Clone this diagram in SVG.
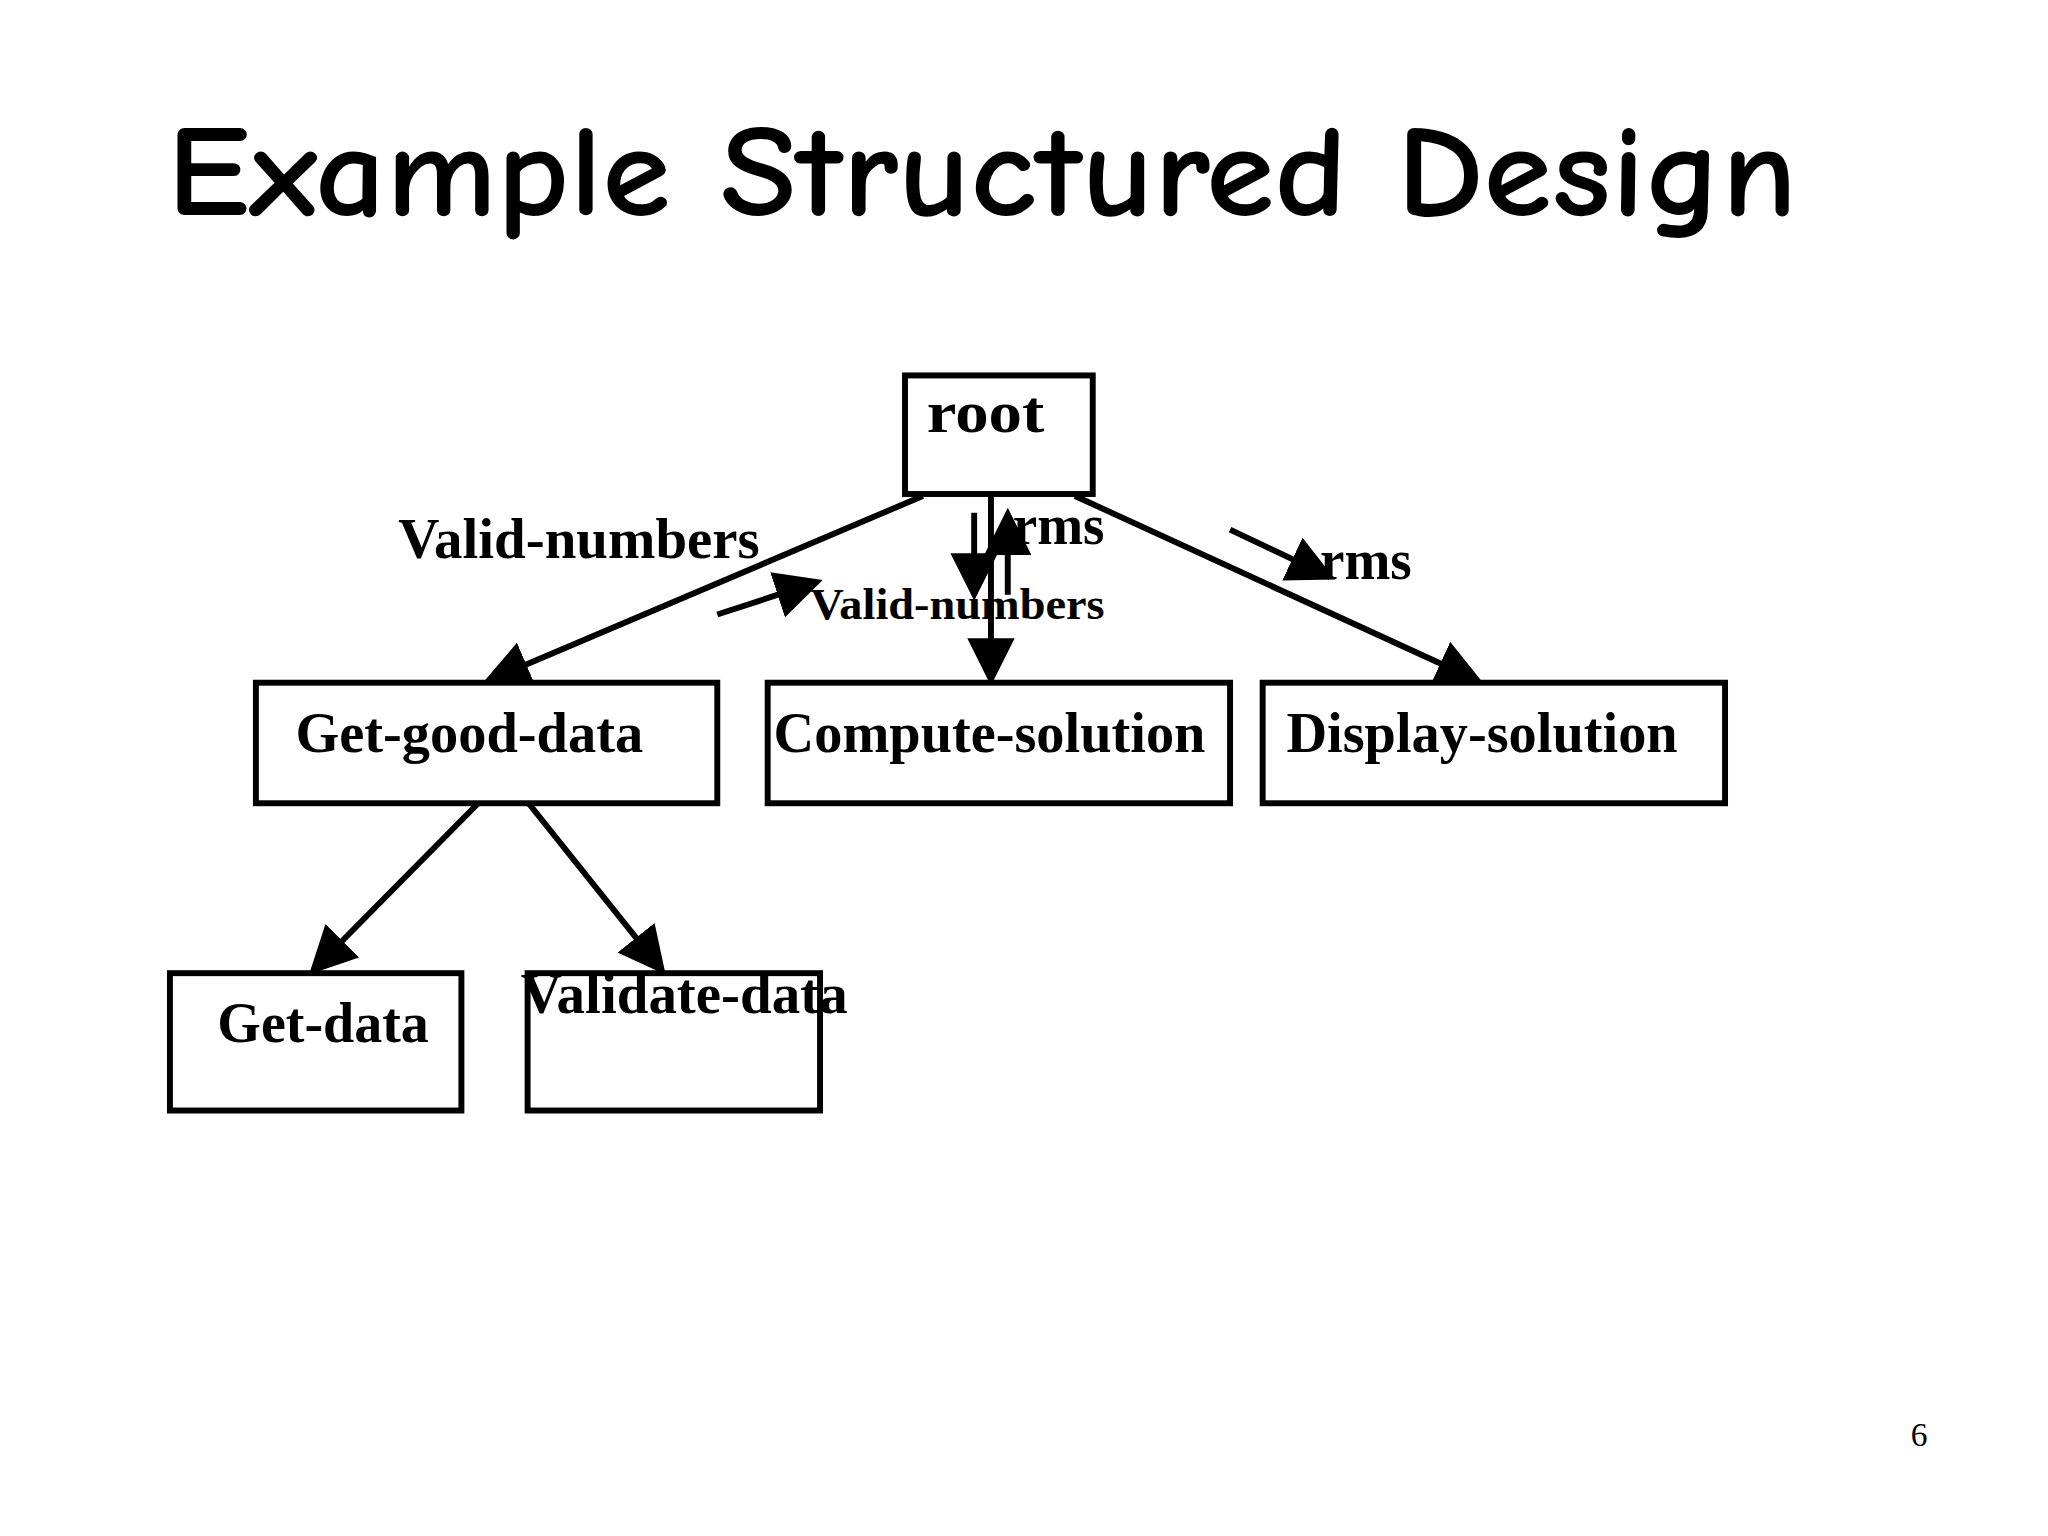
<svg xmlns="http://www.w3.org/2000/svg" width="2048" height="1536" viewBox="0 0 2048 1536">
<style>
.box{fill:#fff;stroke:#000;stroke-width:6}
.t{font-family:"Liberation Serif",serif;font-weight:bold;fill:#000}
.c{stroke:#000;stroke-width:6;fill:none;marker-end:url(#ah)}
</style>
<defs><marker id="ah" markerWidth="8" markerHeight="8" refX="7" refY="4" orient="auto" markerUnits="strokeWidth"><path d="M0,0 L8,4 L0,8 Z" fill="#000"/></marker></defs>
<rect width="2048" height="1536" fill="#fff"/>
<g transform="scale(0.988)">
<text x="169" y="218" font-family="'Comic Neue','Noto Sans',sans-serif" font-weight="bold" font-size="132" textLength="1650" lengthAdjust="spacingAndGlyphs">Example Structured Design</text>
<g id="connectors">
<line class="c" x1="934" y1="502" x2="494" y2="689"/>
<line class="c" x1="1003" y1="502" x2="1003" y2="688"/>
<line class="c" x1="1088" y1="502" x2="1496" y2="689"/>
<line class="c" x1="484" y1="813" x2="317" y2="982"/>
<line class="c" x1="535" y1="813" x2="670" y2="982"/>
<line class="c" x1="726" y1="622" x2="827" y2="589"/>
<line class="c" x1="1245" y1="536" x2="1346" y2="584"/>
<line class="c" x1="986" y1="519" x2="986" y2="602"/>
<line class="c" x1="1020" y1="602" x2="1020" y2="520"/>
</g>
<g id="root"><rect class="box" x="916" y="380" width="190" height="120"/><text class="t" x="938" y="437" font-size="60" textLength="119" lengthAdjust="spacingAndGlyphs">root</text></g>
<g id="get-good-data"><rect class="box" x="259" y="691" width="467" height="122"/><text class="t" x="299" y="761" font-size="57" textLength="352" lengthAdjust="spacingAndGlyphs">Get-good-data</text></g>
<g id="compute-solution"><rect class="box" x="777" y="691" width="468" height="122"/><text class="t" x="783" y="761" font-size="57" textLength="437" lengthAdjust="spacingAndGlyphs">Compute-solution</text></g>
<g id="display-solution"><rect class="box" x="1278" y="691" width="468" height="122"/><text class="t" x="1302" y="761" font-size="57" textLength="396" lengthAdjust="spacingAndGlyphs">Display-solution</text></g>
<g id="get-data"><rect class="box" x="172" y="985" width="295" height="139"/><text class="t" x="220" y="1055" font-size="57" textLength="214" lengthAdjust="spacingAndGlyphs">Get-data</text></g>
<g id="validate-data"><rect class="box" x="534" y="985" width="296" height="139"/><text class="t" x="527" y="1025" font-size="57" textLength="331" lengthAdjust="spacingAndGlyphs">Validate-data</text></g>
<g id="labels">
<text class="t" x="403" y="565" font-size="57" textLength="366" lengthAdjust="spacingAndGlyphs">Valid-numbers</text>
<text class="t" x="820" y="627" font-size="44" textLength="298" lengthAdjust="spacingAndGlyphs">Valid-numbers</text>
<text class="t" x="1025" y="551" font-size="57" textLength="93" lengthAdjust="spacingAndGlyphs">rms</text>
<text class="t" x="1336" y="586" font-size="57" textLength="93" lengthAdjust="spacingAndGlyphs">rms</text>
</g>
<text x="1934" y="1464" font-family="'Liberation Serif',serif" font-size="34">6</text>
</g>
</svg>
